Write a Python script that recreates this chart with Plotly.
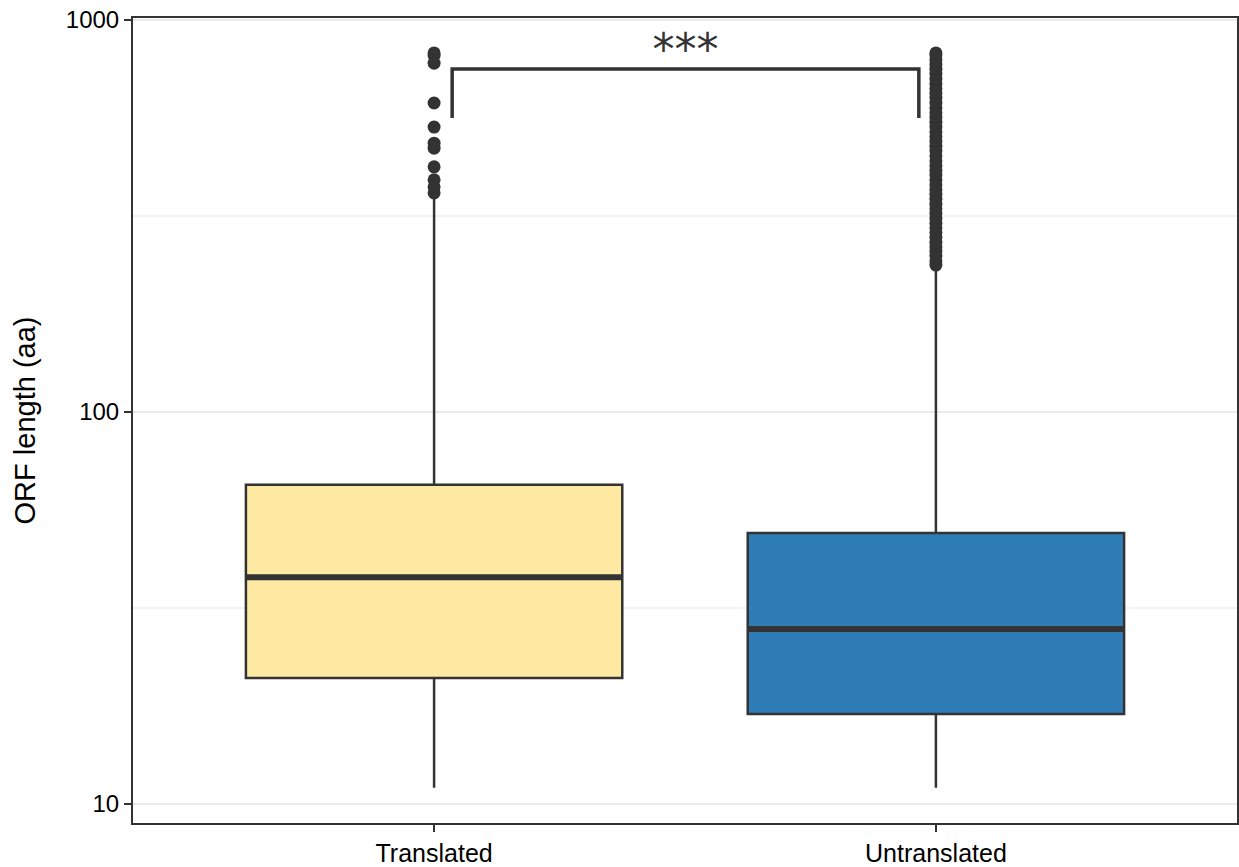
import plotly.graph_objects as go

# ---- data ----
categories = ["Translated", "Untranslated"]
q1 = [20.96, 16.97]
median = [37.9, 27.95]
q3 = [65.2, 49.1]
lower_whisker = [11.0, 11.0]
upper_whisker = [356, 236]
fills = ["#FDE9A1", "#2F7DB6"]

outliers_translated = [824, 812, 776, 614, 533, 485, 471, 422, 391, 375, 362]
outliers_untranslated = [237, 243, 250, 257, 264, 271, 279, 287, 295, 303, 312, 321,
                         330, 339, 349, 359, 369, 380, 391, 402, 413, 425, 437, 450,
                         463, 476, 490, 504, 518, 533, 548, 564, 580, 597, 614, 632,
                         650, 668, 688, 707, 728, 749, 770, 792, 815, 824]

sig_label = "***"
bracket_x = [0.036, 0.966]
bracket_y_low = 562
bracket_y_high = 750
label_y = 818

ytick_vals = [10, 100, 1000]
ytick_text = ["10", "100", "1000"]

DARK = "#333333"
BOX_W = 0.75

fig = go.Figure()

for i, cat in enumerate(categories):
    fig.add_trace(go.Box(
        x=[i], q1=[q1[i]], median=[median[i]], q3=[q3[i]],
        lowerfence=[lower_whisker[i]], upperfence=[upper_whisker[i]],
        width=BOX_W, fillcolor=fills[i],
        line=dict(color=DARK, width=2.5),
        boxpoints=False, whiskerwidth=0, showlegend=False, hoverinfo="skip",
    ))
    # thicker median line
    fig.add_trace(go.Scatter(
        x=[i - BOX_W / 2, i + BOX_W / 2], y=[median[i], median[i]],
        mode="lines", line=dict(color=DARK, width=6), showlegend=False, hoverinfo="skip",
    ))

for i, outs in enumerate([outliers_translated, outliers_untranslated]):
    fig.add_trace(go.Scatter(
        x=[i] * len(outs), y=outs, mode="markers",
        marker=dict(color=DARK, size=13, line=dict(width=0)),
        showlegend=False, hoverinfo="skip",
    ))

# significance bracket
fig.add_trace(go.Scatter(
    x=[bracket_x[0], bracket_x[0], bracket_x[1], bracket_x[1]],
    y=[bracket_y_low, bracket_y_high, bracket_y_high, bracket_y_low],
    mode="lines", line=dict(color=DARK, width=3.5), showlegend=False, hoverinfo="skip",
))
fig.add_trace(go.Scatter(
    x=[sum(bracket_x) / 2], y=[label_y], mode="text", text=[sig_label],
    textfont=dict(size=44, color=DARK, family="DejaVu Sans"),
    textposition="middle center", showlegend=False, hoverinfo="skip",
))

fig.update_layout(
    width=1239, height=867, autosize=False,
    margin=dict(l=133, r=2, t=18, b=44, autoexpand=False),
    plot_bgcolor="white", paper_bgcolor="white",
    font=dict(family="Liberation Sans, Arial, sans-serif", color="black"),
)
fig.update_xaxes(
    range=[-0.6, 1.6], tickvals=[0, 1], ticktext=categories,
    tickfont=dict(size=25, color="black"), automargin=False,
    ticks="outside", ticklen=7, tickwidth=2, tickcolor=DARK,
    showgrid=False, zeroline=False,
    showline=True, linecolor=DARK, linewidth=2, mirror=True,
)
fig.update_yaxes(
    type="log", range=[0.9515, 3.005], automargin=False,
    tickvals=ytick_vals, ticktext=ytick_text,
    tickfont=dict(size=24, color="black"),
    ticks="outside", ticklen=7, tickwidth=2, tickcolor=DARK,
    showgrid=True, gridcolor="#EBEBEB", gridwidth=2,
    minor=dict(tickvals=[31.62, 316.2], showgrid=True, gridcolor="#F2F2F2", gridwidth=1.5, ticklen=0),
    zeroline=False,
    showline=True, linecolor=DARK, linewidth=2, mirror=True,
    title=dict(text="ORF length (aa)", font=dict(size=29, color="black"), standoff=22),
)

post = ("document.body.style.margin='0';document.body.style.padding='0';"
        "document.body.style.overflow='hidden';"
        "Plotly.relayout('{plot_id}', {width: 1239, height: 867});")

fig.write_html("out.html", config={"responsive": False, "displayModeBar": False},
               default_width="1239px", default_height="867px", post_script=post)
